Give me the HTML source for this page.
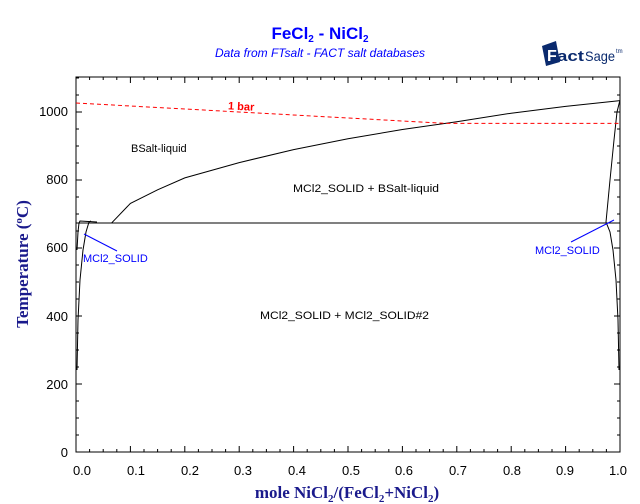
<!DOCTYPE html>
<html><head><meta charset="utf-8"><style>
html,body{margin:0;padding:0;background:#fff;}
svg{display:block;}
.t{font-family:"Liberation Sans",Arial,sans-serif;font-size:11px;}
.ax{font-family:"Liberation Sans",Arial,sans-serif;font-size:13px;fill:#000;}
</style></head><body>
<svg width="640" height="504" viewBox="0 0 640 504" xmlns="http://www.w3.org/2000/svg">
<rect width="640" height="504" fill="#fff"/>
<text x="320" y="39" text-anchor="middle" font-family="Liberation Sans,Arial,sans-serif" font-weight="bold" font-size="17" fill="#0000ff">FeCl<tspan font-size="10" dy="3">2</tspan><tspan dy="-3"> - NiCl</tspan><tspan font-size="10" dy="3">2</tspan></text>
<text x="320" y="57" text-anchor="middle" font-family="Liberation Sans,Arial,sans-serif" font-style="italic" font-size="12" fill="#0000ff">Data from FTsalt - FACT salt databases</text>
<!-- logo -->
<polygon points="542,46 556,41 560,62 546,66" fill="#0a2a6e"/>
<text x="547" y="61" font-family="Liberation Sans,Arial,sans-serif" font-weight="bold" font-size="16" fill="#fff">F</text>
<text x="557" y="61" font-family="Liberation Sans,Arial,sans-serif" font-weight="bold" font-size="15" fill="#0a2a6e" textLength="27" lengthAdjust="spacingAndGlyphs">act</text>
<text x="585" y="61" font-family="Liberation Sans,Arial,sans-serif" font-size="14" fill="#0a2a6e" textLength="30" lengthAdjust="spacingAndGlyphs">Sage</text>
<text x="616" y="53" font-family="Liberation Sans,Arial,sans-serif" font-size="6" fill="#0a2a6e">tm</text>
<!-- frame -->
<rect x="76" y="77" width="544" height="375" fill="none" stroke="#000" stroke-width="1"/>
<g stroke="#000" stroke-width="1" id="ticks">
<!-- generated via script below -->
</g>
<!-- y tick labels -->
<g class="ax" text-anchor="end">
<text x="68" y="457">0</text>
<text x="68" y="389">200</text>
<text x="68" y="321">400</text>
<text x="68" y="252">600</text>
<text x="68" y="184">800</text>
<text x="68" y="116">1000</text>
</g>
<g class="ax" text-anchor="middle">
<text x="82" y="475">0.0</text><text x="136" y="475">0.1</text><text x="190" y="475">0.2</text><text x="243" y="475">0.3</text><text x="297" y="475">0.4</text><text x="351" y="475">0.5</text><text x="404" y="475">0.6</text><text x="458" y="475">0.7</text><text x="512" y="475">0.8</text><text x="565" y="475">0.9</text><text x="618" y="475">1.0</text>
</g>
<text x="347" y="498" text-anchor="middle" font-family="Liberation Serif,Times,serif" font-weight="bold" font-size="17" fill="#1a1a8c">mole NiCl<tspan font-size="11" dy="4">2</tspan><tspan dy="-4">/(FeCl</tspan><tspan font-size="11" dy="4">2</tspan><tspan dy="-4">+NiCl</tspan><tspan font-size="11" dy="4">2</tspan><tspan dy="-4">)</tspan></text>
<text transform="translate(28,264) rotate(-90)" text-anchor="middle" font-family="Liberation Serif,Times,serif" font-weight="bold" font-size="17" fill="#1a1a8c">Temperature (<tspan font-size="11" dy="-6">o</tspan><tspan dy="6">C)</tspan></text>
<!-- curves -->
<g fill="none" stroke="#000" stroke-width="1">
<line x1="76" y1="223" x2="620" y2="223"/>
<polyline points="111.4,223.2 130.4,203.4 157.6,189.8 184.8,177.9 239.2,162.6 293.6,149.6 348,138.7 402.4,129.5 456.8,121.7 511.2,113.2 565.6,106.4 620,100.6"/>
<polyline points="77,370 78,320 80,280 83,250 86,232 89,222 91,221"/>
<polyline points="77,250 78,232 79,223 80,221 97,222"/>
<polyline points="619,370 618,320 616,280 613,250 610,232 606,222 610,180 614,140 617,112 620,100"/>
</g>
<polyline points="76,103 446,123.4 620,123.4" fill="none" stroke="#ff0000" stroke-width="1" stroke-dasharray="4,3"/>
<text x="228" y="110" font-family="Liberation Sans,Arial,sans-serif" font-size="11" font-weight="bold" fill="#ff0000" transform="rotate(3 240 107)">1 bar</text>
<g class="t" fill="#000">
<text x="131" y="152">BSalt-liquid</text>
<text x="293" y="192" textLength="146" lengthAdjust="spacingAndGlyphs">MCl2_SOLID + BSalt-liquid</text>
<text x="260" y="319" textLength="169" lengthAdjust="spacingAndGlyphs">MCl2_SOLID + MCl2_SOLID#2</text>
</g>
<g stroke="#0000ff" stroke-width="1">
<line x1="84" y1="234" x2="117" y2="251"/>
<line x1="571" y1="242" x2="614" y2="220"/>
</g>
<g class="t" fill="#0000ff">
<text x="83" y="262">MCl2_SOLID</text>
<text x="535" y="254">MCl2_SOLID</text>
</g>
<g stroke="#000" stroke-width="1">
<path d="M89.6,452v-3M103.2,452v-3M116.8,452v-3M130.4,452v-6M144,452v-3M157.6,452v-3M171.2,452v-3M184.8,452v-6M198.4,452v-3M212,452v-3M225.6,452v-3M239.2,452v-6M252.8,452v-3M266.4,452v-3M280,452v-3M293.6,452v-6M307.2,452v-3M320.8,452v-3M334.4,452v-3M348,452v-6M361.6,452v-3M375.2,452v-3M388.8,452v-3M402.4,452v-6M416,452v-3M429.6,452v-3M443.2,452v-3M456.8,452v-6M470.4,452v-3M484,452v-3M497.6,452v-3M511.2,452v-6M524.8,452v-3M538.4,452v-3M552,452v-3M565.6,452v-6M579.2,452v-3M592.8,452v-3M606.4,452v-3"/>
<path d="M89.6,77v3M103.2,77v3M116.8,77v3M130.4,77v6M144,77v3M157.6,77v3M171.2,77v3M184.8,77v6M198.4,77v3M212,77v3M225.6,77v3M239.2,77v6M252.8,77v3M266.4,77v3M280,77v3M293.6,77v6M307.2,77v3M320.8,77v3M334.4,77v3M348,77v6M361.6,77v3M375.2,77v3M388.8,77v3M402.4,77v6M416,77v3M429.6,77v3M443.2,77v3M456.8,77v6M470.4,77v3M484,77v3M497.6,77v3M511.2,77v6M524.8,77v3M538.4,77v3M552,77v3M565.6,77v6M579.2,77v3M592.8,77v3M606.4,77v3"/>
<path d="M76,435h3M76,418h3M76,401h3M76,384h6M76,367h3M76,350h3M76,333h3M76,316h6M76,299h3M76,282h3M76,265h3M76,248h6M76,231h3M76,214h3M76,197h3M76,180h6M76,163h3M76,146h3M76,129h3M76,112h6M76,95h3M76,78h3"/>
<path d="M620,435h-3M620,418h-3M620,401h-3M620,384h-6M620,367h-3M620,350h-3M620,333h-3M620,316h-6M620,299h-3M620,282h-3M620,265h-3M620,248h-6M620,231h-3M620,214h-3M620,197h-3M620,180h-6M620,163h-3M620,146h-3M620,129h-3M620,112h-6M620,95h-3"/>
</g>
</svg>
</body></html>
